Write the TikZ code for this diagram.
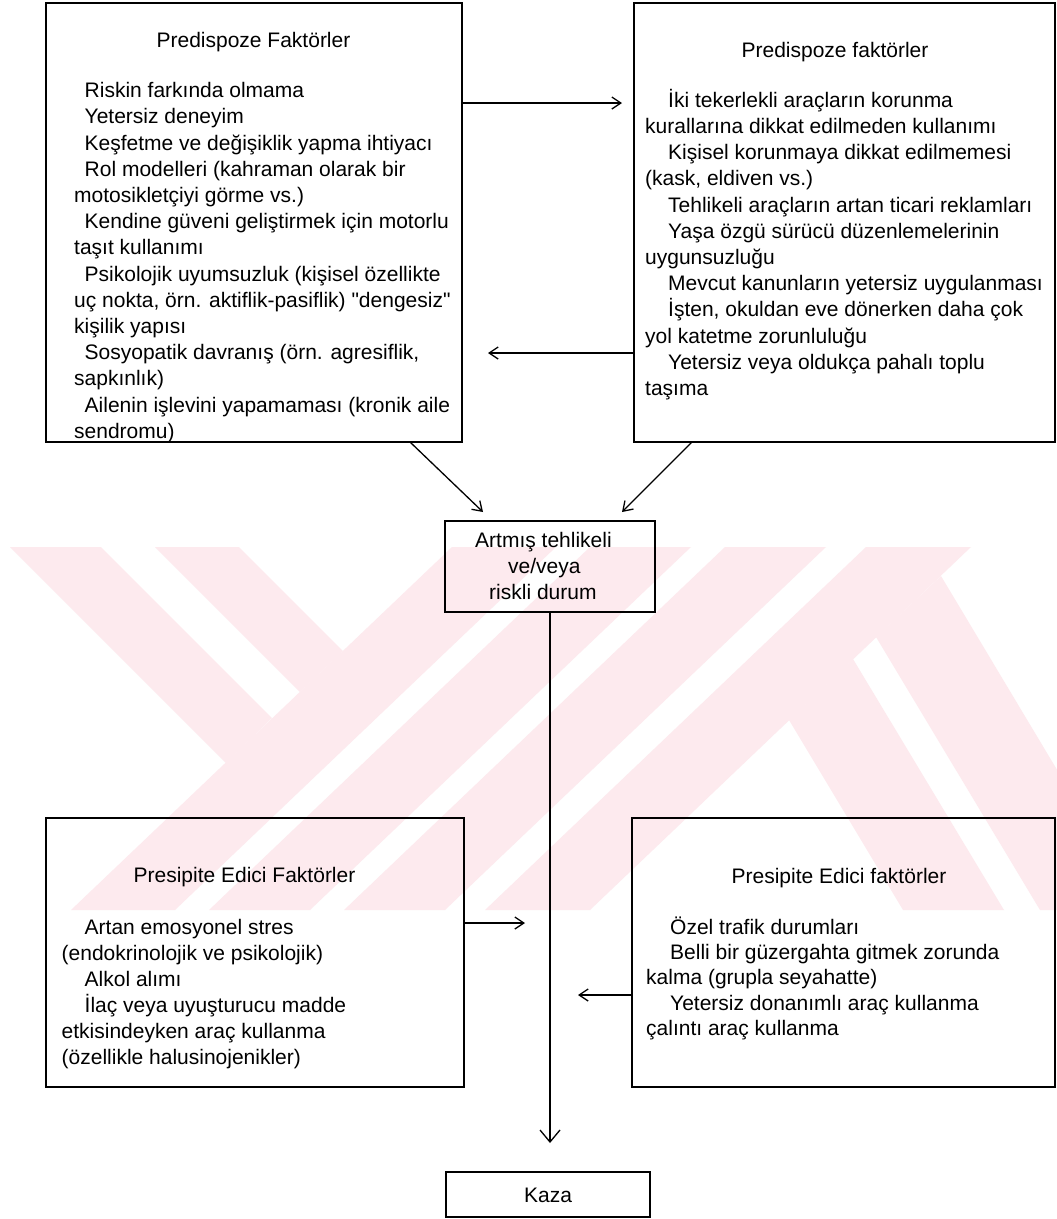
\documentclass[tikz,border=0pt]{standalone}
\usepackage{fontspec}
\setmainfont{Liberation Sans}
\usetikzlibrary{arrows.meta}
\definecolor{wmpink}{RGB}{253,234,238}
\begin{document}
\begin{tikzpicture}[x=1pt,y=-1pt,
  box/.style={draw=black, line width=1.6pt, inner sep=0pt, outer sep=0pt, anchor=north west},
  txt/.style={font=\fontsize{21}{26.2}\selectfont, inner sep=0pt, align=left, anchor=north west},
  txtb/.style={font=\fontsize{21}{26}\selectfont, inner sep=0pt, align=left, anchor=north west},
  ttl/.style={font=\fontsize{21}{26}\selectfont, inner sep=0pt, anchor=base},
  arr/.style={line width=1.3pt, -{Straight Barb[length=9pt,width=12pt]}},
  bigarr/.style={line width=1.3pt, -{Straight Barb[length=12pt,width=20pt]}},
  wm/.style={fill=wmpink, draw=none},
]
\useasboundingbox[fill=white] (0,0) rectangle (1057,1219);

% faint background watermark
\begin{scope}
\clip (0,547) rectangle (1057,910);
\fill[wm] (71,910) -- (175,910) -- (556,547) -- (452,547) -- cycle;
\fill[wm] (209,910) -- (310,910) -- (691,547) -- (590,547) -- cycle;
\fill[wm] (344,910) -- (445,910) -- (826,547) -- (725,547) -- cycle;
\fill[wm] (485,910) -- (590,910) -- (971,547) -- (866,547) -- cycle;
\fill[wm] (10,547) -- (101,547) -- (272,718) -- (226,763) -- cycle;
\fill[wm] (155,547) -- (239,547) -- (343,651) -- (300,692) -- cycle;
\fill[wm] (903,910) -- (1004,910) -- (853,659) -- (789,720) -- cycle;
\fill[wm] (1040,910) -- (1141,910) -- (941,576) -- (876,637) -- cycle;
\end{scope}

% boxes
\node[box, minimum width=416pt, minimum height=439pt] (tl) at (46,3) {};
\node[box, minimum width=421pt, minimum height=439pt] (tr) at (634,3) {};
\node[box, minimum width=210pt, minimum height=91pt] (mid) at (445,521) {};
\node[box, minimum width=418pt, minimum height=269pt] (bl) at (46,818) {};
\node[box, minimum width=423pt, minimum height=269pt] (br) at (632,818) {};
\node[box, minimum width=204pt, minimum height=45pt] (kaza) at (446,1172) {};

% titles
\node[ttl] (tlt) at (253.5,47) {Predispoze Faktörler};
\node[ttl] (trt) at (835,57) {Predispoze faktörler};
\node[ttl] (blt) at (244.5,882) {Presipite Edici Faktörler};
\node[ttl] (brt) at (839,883) {Presipite Edici faktörler};
\node[ttl] (kazat) at (548,1202) {Kaza};

% texts
\node[txt] (tlx) at (74,79.2) {\strut\hspace*{10.5pt}Riskin farkında olmama\\
\hspace*{10.5pt}Yetersiz deneyim\\
\hspace*{10.5pt}Keşfetme ve değişiklik yapma ihtiyacı\\
\hspace*{10.5pt}Rol modelleri (kahraman olarak bir\\
motosikletçiyi görme vs.)\\
\hspace*{10.5pt}Kendine güveni geliştirmek için motorlu\\
taşıt kullanımı\\
\hspace*{10.5pt}Psikolojik uyumsuzluk (kişisel özellikte\\
uç nokta, örn. aktiflik-pasiflik) \textquotedbl dengesiz\textquotedbl\\
kişilik yapısı\\
\hspace*{10.5pt}Sosyopatik davranış (örn. agresiflik,\\
sapkınlık)\\
\hspace*{10.5pt}Ailenin işlevini yapamaması (kronik aile\\
sendromu)};

\node[txt] (trx) at (645,88.7) {\strut\hspace*{23pt}İki tekerlekli araçların korunma\\
kurallarına dikkat edilmeden kullanımı\\
\hspace*{23pt}Kişisel korunmaya dikkat edilmemesi\\
(kask, eldiven vs.)\\
\hspace*{23pt}Tehlikeli araçların artan ticari reklamları\\
\hspace*{23pt}Yaşa özgü sürücü düzenlemelerinin\\
uygunsuzluğu\\
\hspace*{23pt}Mevcut kanunların yetersiz uygulanması\\
\hspace*{23pt}İşten, okuldan eve dönerken daha çok\\
yol katetme zorunluluğu\\
\hspace*{23pt}Yetersiz veya oldukça pahalı toplu\\
taşıma};

\node[txtb] (midx) at (475,528.8) {\strut Artmış tehlikeli\\
\hspace*{33pt}ve/veya\\
\hspace*{14pt}riskli durum};

\node[txtb] (blx) at (61.5,915.8) {\strut\hspace*{23pt}Artan emosyonel stres\\
(endokrinolojik ve psikolojik)\\
\hspace*{23pt}Alkol alımı\\
\hspace*{23pt}İlaç veya uyuşturucu madde\\
etkisindeyken araç kullanma\\
(özellikle halusinojenikler)};

\node[txtb, font=\fontsize{21}{25.4}\selectfont] (brx) at (646,916.2) {\strut\hspace*{24pt}Özel trafik durumları\\
\hspace*{24pt}Belli bir güzergahta gitmek zorunda\\
kalma (grupla seyahatte)\\
\hspace*{24pt}Yetersiz donanımlı araç kullanma\\
çalıntı araç kullanma};

% connectors
\coordinate (p1) at (622,103);
\draw[arr] (tl.east |- p1) -- (p1);
\coordinate (p2) at (488,353);
\draw[arr] (tr.west |- p2) -- (p2);
\coordinate (q1) at (410,442);
\coordinate (q2) at (483,512);
\draw[arr] (q1 |- tl.south) -- (q2);
\coordinate (q3) at (692,442);
\coordinate (q4) at (622,512);
\draw[arr] (q3 |- tr.south) -- (q4);
\coordinate (p3) at (550,1143);
\draw[bigarr] (mid.south) -- (p3);
\coordinate (p4) at (525,923);
\draw[arr] (bl.east |- p4) -- (p4);
\coordinate (p5) at (578,995);
\draw[arr] (br.west |- p5) -- (p5);
\end{tikzpicture}
\end{document}
